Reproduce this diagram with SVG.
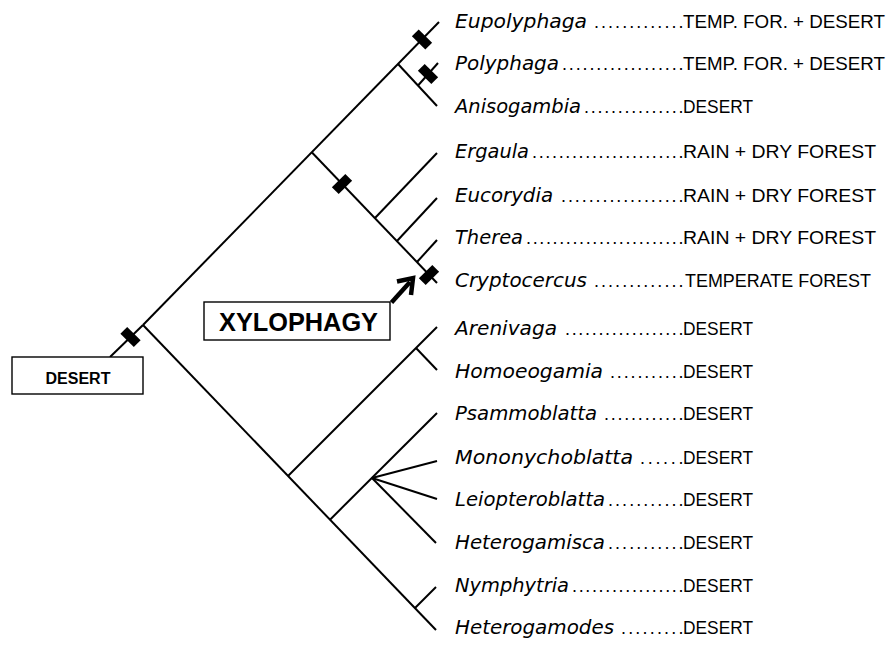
<svg xmlns="http://www.w3.org/2000/svg" width="893" height="646" viewBox="0 0 893 646">
<style>
.br{stroke:#000;stroke-width:2;fill:none;stroke-linecap:butt}
.mk{fill:#000}
.nm{font-family:"DejaVu Sans","Liberation Sans",sans-serif;font-style:oblique;font-size:19px;fill:#000}
.dt{font-family:"Liberation Sans",Arial,sans-serif;font-size:18px;fill:#000}
.hb{font-family:"Liberation Sans",Arial,sans-serif;font-size:18.5px;fill:#000}
.box{fill:#fff;stroke:#000;stroke-width:1.4}
.bt{font-family:"Liberation Sans",Arial,sans-serif;font-weight:bold;fill:#000;text-anchor:middle}
</style>
<rect width="893" height="646" fill="#fff"/>
<g id="connectors">
<path class="br" d="M110,357 L143,325"/>
<path class="br" d="M143,325 L439,22"/>
<path class="br" d="M398,64 L437,106"/>
<path class="br" d="M418,85.5 L438,63"/>
<path class="br" d="M312,152.5 L437,283"/>
<path class="br" d="M375,218 L437,153"/>
<path class="br" d="M397,241 L437,198"/>
<path class="br" d="M417,262 L437,240"/>
<path class="br" d="M143,325 L436,630"/>
<path class="br" d="M288,476 L437,327"/>
<path class="br" d="M416,348 L437,370"/>
<path class="br" d="M330,519.7 L437,413"/>
<path class="br" d="M372,478 L437,461"/>
<path class="br" d="M372,478 L437,499"/>
<path class="br" d="M372,478 L436,543"/>
<path class="br" d="M415,608 L436,587"/>
</g>
<g id="markers">
<rect class="mk" x="-9.5" y="-4.8" width="19" height="9.6" transform="translate(130.5,337) rotate(45)"/>
<rect class="mk" x="-9.5" y="-4.8" width="19" height="9.6" transform="translate(422,39.5) rotate(45)"/>
<rect class="mk" x="-9.5" y="-4.8" width="19" height="9.6" transform="translate(428,74) rotate(45)"/>
<rect class="mk" x="-9.5" y="-4.8" width="19" height="9.6" transform="translate(342,184) rotate(-45)"/>
<rect class="mk" x="-9.5" y="-4.8" width="19" height="9.6" transform="translate(429,275) rotate(-45)"/>
</g>
<g id="desert-box">
<rect class="box" x="12" y="357" width="131" height="37"/>
<text class="bt" x="78" y="384" font-size="16">DESERT</text>
</g>
<g id="xylophagy">
<rect class="box" x="204" y="302" width="186" height="38" stroke-width="1.6"/>
<text class="bt" x="298.5" y="331" font-size="25.5" textLength="159" lengthAdjust="spacingAndGlyphs">XYLOPHAGY</text>
<path d="M391.5,302.5 L410,282" stroke="#000" stroke-width="4.5" fill="none"/>
<polyline points="397,281.5 413,278 411,295" stroke="#000" stroke-width="4.5" fill="none" stroke-linejoin="miter"/>
</g>
<g id="t-eupolyphaga">
<text class="nm" x="455" y="27.5" textLength="132" lengthAdjust="spacingAndGlyphs">Eupolyphaga</text>
<text class="dt" x="594" y="27.5" textLength="89.5" lengthAdjust="spacing">.............</text>
<text class="hb" x="683" y="27.5" textLength="202" lengthAdjust="spacingAndGlyphs">TEMP. FOR. + DESERT</text>
</g>
<g id="t-polyphaga">
<text class="nm" x="455" y="69.5" textLength="104" lengthAdjust="spacingAndGlyphs">Polyphaga</text>
<text class="dt" x="562" y="69.5" textLength="121.5" lengthAdjust="spacing">..................</text>
<text class="hb" x="683" y="69.5" textLength="202" lengthAdjust="spacingAndGlyphs">TEMP. FOR. + DESERT</text>
</g>
<g id="t-anisogambia">
<text class="nm" x="455" y="112.5" textLength="126" lengthAdjust="spacingAndGlyphs">Anisogambia</text>
<text class="dt" x="584" y="112.5" textLength="99.5" lengthAdjust="spacing">...............</text>
<text class="hb" x="683" y="112.5" textLength="70" lengthAdjust="spacingAndGlyphs">DESERT</text>
</g>
<g id="t-ergaula">
<text class="nm" x="455" y="157.5" textLength="74" lengthAdjust="spacingAndGlyphs">Ergaula</text>
<text class="dt" x="532" y="157.5" textLength="151.5" lengthAdjust="spacing">.......................</text>
<text class="hb" x="683" y="157.5" textLength="193" lengthAdjust="spacingAndGlyphs">RAIN + DRY FOREST</text>
</g>
<g id="t-eucorydia">
<text class="nm" x="455" y="201.5" textLength="98" lengthAdjust="spacingAndGlyphs">Eucorydia</text>
<text class="dt" x="561" y="201.5" textLength="122.5" lengthAdjust="spacing">..................</text>
<text class="hb" x="683" y="201.5" textLength="193" lengthAdjust="spacingAndGlyphs">RAIN + DRY FOREST</text>
</g>
<g id="t-therea">
<text class="nm" x="455" y="243.5" textLength="68" lengthAdjust="spacingAndGlyphs">Therea</text>
<text class="dt" x="526" y="243.5" textLength="157.5" lengthAdjust="spacing">........................</text>
<text class="hb" x="683" y="243.5" textLength="193" lengthAdjust="spacingAndGlyphs">RAIN + DRY FOREST</text>
</g>
<g id="t-cryptocercus">
<text class="nm" x="455" y="286.5" textLength="132" lengthAdjust="spacingAndGlyphs">Cryptocercus</text>
<text class="dt" x="594" y="286.5" textLength="89.5" lengthAdjust="spacing">.............</text>
<text class="hb" x="685" y="286.5" textLength="186" lengthAdjust="spacingAndGlyphs">TEMPERATE FOREST</text>
</g>
<g id="t-arenivaga">
<text class="nm" x="455" y="334.5" textLength="102" lengthAdjust="spacingAndGlyphs">Arenivaga</text>
<text class="dt" x="565" y="334.5" textLength="118.5" lengthAdjust="spacing">..................</text>
<text class="hb" x="683" y="334.5" textLength="70" lengthAdjust="spacingAndGlyphs">DESERT</text>
</g>
<g id="t-homoeogamia">
<text class="nm" x="455" y="377.5" textLength="148" lengthAdjust="spacingAndGlyphs">Homoeogamia</text>
<text class="dt" x="610" y="377.5" textLength="73.5" lengthAdjust="spacing">...........</text>
<text class="hb" x="683" y="377.5" textLength="70" lengthAdjust="spacingAndGlyphs">DESERT</text>
</g>
<g id="t-psammoblatta">
<text class="nm" x="455" y="419.5" textLength="142" lengthAdjust="spacingAndGlyphs">Psammoblatta</text>
<text class="dt" x="604" y="419.5" textLength="79.5" lengthAdjust="spacing">............</text>
<text class="hb" x="683" y="419.5" textLength="70" lengthAdjust="spacingAndGlyphs">DESERT</text>
</g>
<g id="t-mononychoblatta">
<text class="nm" x="455" y="463.5" textLength="178" lengthAdjust="spacingAndGlyphs">Mononychoblatta</text>
<text class="dt" x="640" y="463.5" textLength="43.5" lengthAdjust="spacing">......</text>
<text class="hb" x="683" y="463.5" textLength="70" lengthAdjust="spacingAndGlyphs">DESERT</text>
</g>
<g id="t-leiopteroblatta">
<text class="nm" x="455" y="505.5" textLength="150" lengthAdjust="spacingAndGlyphs">Leiopteroblatta</text>
<text class="dt" x="608" y="505.5" textLength="75.5" lengthAdjust="spacing">...........</text>
<text class="hb" x="683" y="505.5" textLength="70" lengthAdjust="spacingAndGlyphs">DESERT</text>
</g>
<g id="t-heterogamisca">
<text class="nm" x="455" y="548.5" textLength="150" lengthAdjust="spacingAndGlyphs">Heterogamisca</text>
<text class="dt" x="608" y="548.5" textLength="75.5" lengthAdjust="spacing">...........</text>
<text class="hb" x="683" y="548.5" textLength="70" lengthAdjust="spacingAndGlyphs">DESERT</text>
</g>
<g id="t-nymphytria">
<text class="nm" x="455" y="591.5" textLength="114" lengthAdjust="spacingAndGlyphs">Nymphytria</text>
<text class="dt" x="572" y="591.5" textLength="111.5" lengthAdjust="spacing">.................</text>
<text class="hb" x="683" y="591.5" textLength="70" lengthAdjust="spacingAndGlyphs">DESERT</text>
</g>
<g id="t-heterogamodes">
<text class="nm" x="455" y="633.5" textLength="159" lengthAdjust="spacingAndGlyphs">Heterogamodes</text>
<text class="dt" x="621" y="633.5" textLength="62.5" lengthAdjust="spacing">.........</text>
<text class="hb" x="683" y="633.5" textLength="70" lengthAdjust="spacingAndGlyphs">DESERT</text>
</g>
</svg>
